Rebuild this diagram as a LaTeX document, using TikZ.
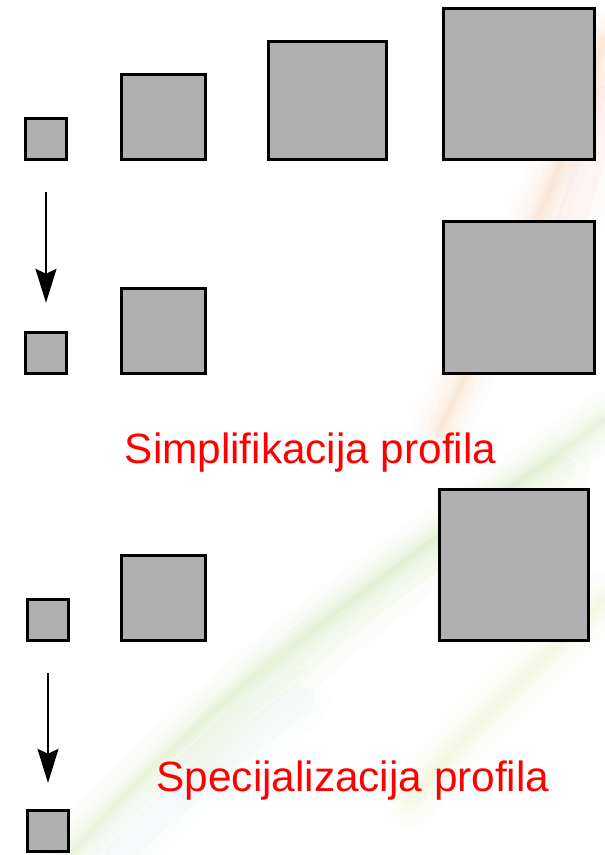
\documentclass[tikz,border=0pt]{standalone}
\usepackage{fontspec}
\setmainfont{Liberation Sans}
\usetikzlibrary{arrows.meta}
\definecolor{boxgray}{RGB}{176,176,176}
\definecolor{swgreen}{RGB}{150,205,90}
\definecolor{swlight}{RGB}{200,225,120}
\definecolor{sworange}{RGB}{235,150,60}
\definecolor{swred}{RGB}{230,110,90}
\definecolor{swblue}{RGB}{140,180,200}
\begin{document}
\begin{tikzpicture}[x=1pt,y=-1pt,
  box/.style={draw=black,line width=3.4pt,fill=boxgray,inner sep=0pt,rectangle},
  lbl/.style={text=red,inner sep=0pt,anchor=base,font=\fontsize{42.3}{50}\selectfont},
  flow/.style={line width=2pt,-{Stealth[length=34pt,width=21pt,inset=5pt]}},
  swoosh/.style={line cap=round}]
\useasboundingbox (0,0) rectangle (605,855);
\fill[white] (0,0) rectangle (605,855);
% faint background swooshes
\foreach \w/\o in {56/0.025,40/0.03,26/0.04,14/0.05,6/0.06}{
  \draw[swoosh,draw=sworange,line width=\w pt,opacity=\o] (604,40) .. controls (560,180) and (500,300) .. (440,430);
  \draw[swoosh,draw=swgreen,line width=\w pt,opacity=\o] (604,420) .. controls (470,520) and (260,640) .. (70,855);
  \draw[swoosh,draw=swlight,line width=\w pt,opacity=\o] (604,600) .. controls (520,680) and (460,740) .. (410,800);
}
\foreach \w/\o in {60/0.025,30/0.04}{
  \draw[swoosh,draw=swgreen,line width=\w pt,opacity=\o] (560,470) .. controls (420,560) and (300,650) .. (200,760);
  \draw[swoosh,draw=swblue,line width=\w pt,opacity=\o] (300,700) .. controls (220,760) and (160,810) .. (120,855);
  \draw[swoosh,draw=swred,line width=\w pt,opacity=\o] (604,100) .. controls (590,160) and (575,210) .. (560,260);
}
% row 1
\node[box,minimum width=41pt,minimum height=41pt] (a1) at (46,139) {};
\node[box,minimum width=84pt,minimum height=85pt] (b1) at (163.5,117) {};
\node[box,minimum width=118pt,minimum height=118pt] (c1) at (327.5,100.5) {};
\node[box,minimum width=151pt,minimum height=151pt] (d1) at (519,84) {};
% row 2
\node[box,minimum width=41pt,minimum height=41pt] (a2) at (46,353) {};
\node[box,minimum width=84pt,minimum height=85pt] (b2) at (163.5,331) {};
\node[box,minimum width=151pt,minimum height=152pt] (d2) at (519,297.5) {};
\draw[flow,shorten <=31pt,shorten >=28pt] (a1.south) -- (a2.north);
\node[lbl] (t1) at (310.5,463) {Simplifikacija profila};
% group 2
\node[box,minimum width=41pt,minimum height=41pt] (a3) at (48,620) {};
\node[box,minimum width=84pt,minimum height=85pt] (b3) at (163.5,598) {};
\node[box,minimum width=149pt,minimum height=151pt] (d3) at (514,565) {};
\node[box,minimum width=41pt,minimum height=41pt] (a4) at (48,831) {};
\draw[flow,shorten <=31pt,shorten >=26pt] (a3.south) -- (a4.north);
\node[lbl] (t2) at (353,791) {Specijalizacija profila};
\end{tikzpicture}
\end{document}
